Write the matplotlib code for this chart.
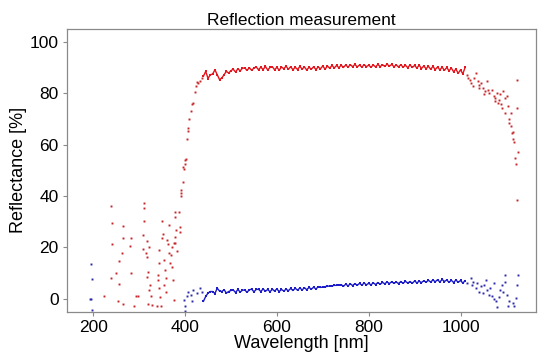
import matplotlib.pyplot as plt
import numpy as np

plt.rcParams['font.family'] = ['Liberation Sans', 'DejaVu Sans']

# Dense, evenly sampled part of the measurement (440-1010 nm, 5 nm step)
wl_dense = np.arange(440, 1011, 5)

refl_dense = [
    86.7, 88.6, 85.8, 87.3, 87.5, 89.2, 87.3, 85.4, 86.0, 87.3, 88.6, 87.9, 88.9,
    89.4, 88.3, 89.6, 88.8, 89.8, 89.9, 89.0, 90.0, 89.0, 89.9, 90.3, 89.2,
    90.2, 89.3, 90.5, 89.1, 90.1, 90.4, 89.2, 90.2, 89.0, 90.3, 89.6, 90.6,
    89.4, 90.4, 89.2, 90.2, 89.3, 90.5, 89.5, 90.3, 89.1, 90.2, 89.4, 90.4,
    89.3, 90.3, 89.6, 90.7, 89.4, 90.7, 89.8, 90.9, 89.9, 90.9, 90.0, 91.0,
    90.1, 91.1, 90.2, 91.2, 90.4, 91.3, 90.3, 91.1, 90.2, 91.2, 90.4, 91.0,
    90.2, 91.1, 90.3, 91.3, 90.4, 91.2, 90.5, 91.4, 90.6, 91.3, 90.4, 91.1,
    90.3, 91.2, 90.2, 91.0, 90.0, 91.1, 90.1, 90.9, 89.9, 91.0, 89.7, 90.7,
    89.6, 90.6, 89.4, 90.5, 89.3, 90.3, 89.2, 90.2, 89.0, 90.1, 88.8, 89.9,
    88.4, 89.5, 87.8, 89.2, 87.6, 90.1,
]

trans_dense = [
    -1.0, 0.9, 2.2, 2.8, 2.8, 2.0, 4.1, 3.0, 2.8, 3.5, 2.2, 2.8, 3.2,
    3.4, 2.4, 3.6, 2.6, 3.3, 3.4, 2.5, 3.5, 3.7, 2.7, 3.6, 3.7,
    2.8, 3.8, 2.9, 3.6, 2.7, 3.7, 3.0, 3.8, 2.8, 3.6, 3.0, 3.7,
    3.1, 4.0, 3.2, 4.1, 3.3, 4.2, 3.4, 4.3, 3.5, 4.4, 3.7, 4.5,
    3.8, 4.6, 4.4, 4.5, 4.7, 4.8, 5.0, 5.0, 5.2, 5.2, 5.3, 5.5,
    4.8, 5.7, 5.0, 5.8, 5.1, 5.9, 5.2, 6.0, 5.3, 6.1, 5.4, 6.0,
    5.4, 6.2, 5.5, 6.3, 5.6, 6.4, 5.8, 6.5, 5.9, 6.6, 6.0, 6.5,
    5.9, 6.7, 6.0, 6.8, 6.1, 6.7, 6.0, 6.9, 6.2, 6.8, 6.3, 7.0,
    6.4, 7.2, 6.5, 7.3, 6.6, 7.4, 6.5, 7.5, 6.7, 7.3, 6.4, 7.2,
    6.3, 7.3, 6.4, 7.1, 6.1, 7.0,
]

# Sparse red points: noisy UV region, the edge and the NIR roll-off
refl_sparse_wl = [
    224, 239, 240, 240, 250, 238, 257, 264, 264, 263, 256, 253, 264,
    283, 281, 283, 289, 293, 297, 311, 311, 311, 309, 308, 314, 317, 318,
    322, 320, 318, 324, 321, 325, 320, 328, 338, 343, 343, 342, 340, 344,
    346, 347, 349, 349, 351, 354, 357, 359, 354, 359, 361, 362, 364, 366,
    369, 372, 367, 371, 373, 375, 377, 378, 378, 379, 376, 383, 380, 387,
    388, 389, 391, 391, 392, 396, 396, 399, 400,
    397, 401, 404, 406, 407, 409, 412, 415, 418, 421, 424, 425, 429, 433, 436,
    1015, 1017, 1020, 1023, 1028, 1030, 1034, 1038, 1040, 1041, 1045, 1048,
    1052, 1054, 1057, 1059, 1063, 1069, 1072, 1075, 1076, 1079, 1081, 1083,
    1086, 1088, 1090, 1093, 1096, 1098, 1101, 1103, 1105, 1106, 1109, 1111,
    1112, 1114, 1115, 1117, 1118, 1121, 1122, 1123, 1124, 1125,
]
refl_sparse = [
    0.9, 36.0, 29.5, 21.5, 10.2, 8.0, 14.8, 28.2, 23.8, 17.7, 5.8, -1.0, -2.0,
    23.5, 20.5, 9.9, -2.7, 0.9, 0.9, 37.3, 35.5, 30.3, 24.8, 19.2, 17.7, 16.4, 22.6,
    20.2, 10.6, 8.4, 5.4, 3.5, 0.9, -2.0, -2.4, -2.7, 19.0, 13.8, 9.3, 7.1, 4.1,
    0.7, -2.7, 30.3, 23.5, 25.1, 15.1, 11.2, 8.0, 5.4, 2.8, 22.8, 21.5, 28.6, 17.7,
    17.0, 20.0, 14.0, 12.3, 7.3, -0.4, 33.8, 31.8, 24.1, 21.8, 21.8, 18.7, 26.7, 33.8,
    28.0, 26.0, 40.2, 41.0, 42.3, 45.4, 51.2, 52.5, 54.0,
    50.6, 54.4, 62.2, 65.4, 66.7, 69.9, 73.1, 75.9, 76.3, 80.6, 82.8, 84.5, 84.0, 84.7, 86.0,
    87.3, 86.0, 85.4, 84.0, 82.8, 86.0, 88.0, 85.0, 82.1, 83.4, 84.0, 82.1,
    79.6, 80.9, 84.7, 81.5, 80.2, 81.5, 78.9, 77.0, 78.3, 80.2, 76.3, 77.6,
    79.6, 75.7, 74.4, 80.9, 78.3, 72.5, 78.9, 75.0, 69.9, 68.6, 72.5, 67.3,
    64.7, 65.0, 62.2, 60.9, 55.0, 52.5, 74.4, 85.4, 38.3, 57.0,
]

# Sparse blue points
trans_sparse_wl = [
    193, 196, 196, 197, 197,
    398, 400, 400, 404, 407, 412, 415, 418, 425, 433, 436,
    1015, 1023, 1025, 1027, 1034, 1036, 1041, 1044, 1049, 1051, 1056, 1057,
    1062, 1064, 1069, 1072, 1074, 1078, 1079, 1083, 1086, 1090, 1093, 1096,
    1098, 1101, 1103, 1105, 1114, 1117, 1120, 1123, 1125,
]
trans_sparse = [
    0.0, 0.0, 13.5, 7.7, -4.3,
    -0.4, -4.9, -3.0, 0.9, 2.8, 1.6, -1.0, 3.5, 2.2, 4.1, 2.7,
    6.0, 8.0, 5.4, 6.7, 4.1, 6.0, 2.8, 4.8, 2.2, 5.4, 7.1, 3.5,
    1.5, 4.1, 0.9, 6.0, -0.1, -1.0, -3.3, 0.7, 3.5, 5.4, 2.8, 9.3,
    6.7, 1.5, -3.0, -1.0, -1.7, -3.0, 0.3, 5.4, 9.3,
]

red = '#e3161e'
blue = '#1c1cc8'

fig = plt.figure(figsize=(5.5, 3.61), dpi=100)
ax = fig.add_axes([0.122, 0.137, 0.853, 0.782])

ax.plot(refl_sparse_wl, refl_sparse, 's', color='#c4262a', ms=1.4, mew=0)
ax.plot(wl_dense, refl_dense, '-', color=red, lw=1.0)
ax.plot(wl_dense, refl_dense, 's', color=red, ms=1.6, mew=0)
ax.plot(trans_sparse_wl, trans_sparse, 's', color='#2a2aa8', ms=1.4, mew=0)
ax.plot(wl_dense, trans_dense, '-', color=blue, lw=1.0)
ax.plot(wl_dense, trans_dense, 's', color=blue, ms=1.6, mew=0)

ax.set_xlim(143, 1165)
ax.set_ylim(-5, 105)
ax.set_xticks([200, 400, 600, 800, 1000])
ax.set_yticks([0, 20, 40, 60, 80, 100])

for sp in ax.spines.values():
    sp.set_color('#8a8a8a')
    sp.set_linewidth(0.9)
ax.tick_params(length=3, width=0.8, color='#8a8a8a', labelsize=12.5, pad=3)

ax.set_title('Reflection measurement', fontsize=12.5, pad=3)
ax.set_xlabel('Wavelength [nm]', fontsize=13, labelpad=0)
ax.set_ylabel('Reflectance [%]', fontsize=13, labelpad=2)

fig.savefig('out.png', dpi=100)
